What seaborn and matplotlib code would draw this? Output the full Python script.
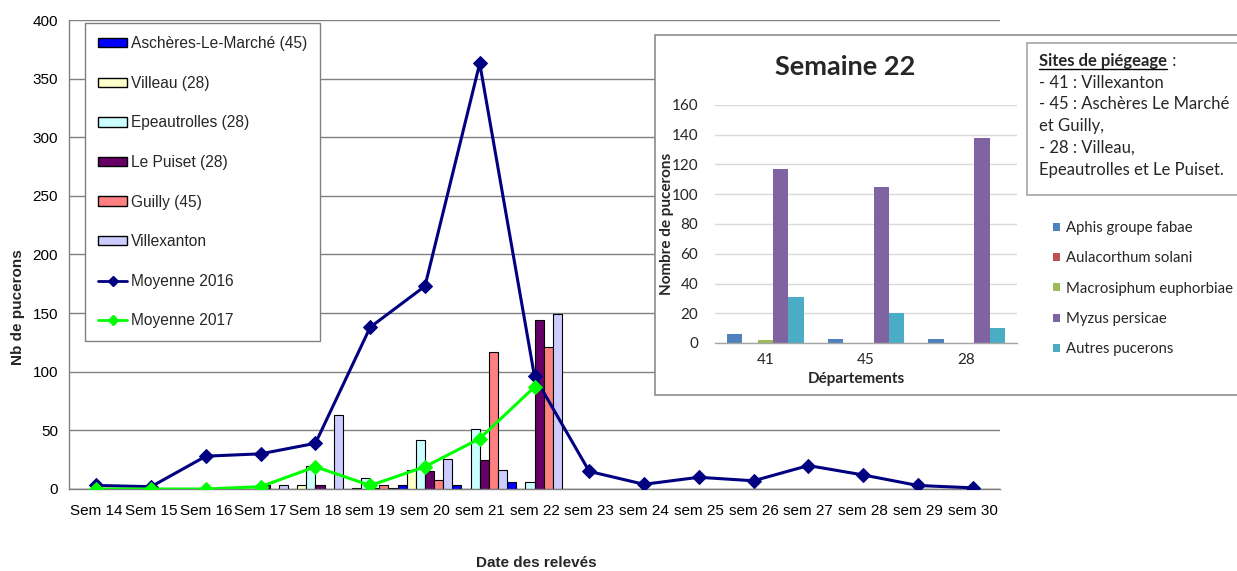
import numpy as np
import pandas as pd
import matplotlib
matplotlib.use("Agg")
import matplotlib.pyplot as plt
import seaborn as sns
from matplotlib.patches import Patch, Rectangle
from matplotlib.lines import Line2D

# ---------------- data ----------------
weeks = ["Sem 14", "Sem 15", "Sem 16", "Sem 17", "Sem 18", "sem 19", "sem 20", "sem 21",
         "sem 22", "sem 23", "sem 24", "sem 25", "sem 26", "sem 27", "sem 28", "sem 29", "sem 30"]
sites = ["Aschères-Le-Marché (45)", "Villeau (28)", "Epeautrolles (28)",
         "Le Puiset (28)", "Guilly (45)", "Villexanton"]
aschères = [0, 0, 0, 0, 0, 0, 3, 3, 6, 0, 0, 0, 0, 0, 0, 0, 0]
villeau = [0, 0, 0, 0, 3, 1, 16, 0, 0, 0, 0, 0, 0, 0, 0, 0, 0]
epeautrolles = [0, 0, 0, 0, 20, 9, 42, 51, 6, 0, 0, 0, 0, 0, 0, 0, 0]
le_puiset = [0, 0, 0, 3, 3, 1, 15, 25, 144, 0, 0, 0, 0, 0, 0, 0, 0]
guilly = [0, 0, 0, 0, 0, 3, 8, 117, 121, 0, 0, 0, 0, 0, 0, 0, 0]
villexanton = [0, 0, 0, 3, 63, 1, 26, 16, 149, 0, 0, 0, 0, 0, 0, 0, 0]
moyenne_2016 = [3, 2, 28, 30, 39, 138, 173, 363, 96, 15, 4, 10, 7, 20, 12, 3, 1]
moyenne_2017 = [0, 0, 0, 2, 19, 3, 19, 43, 87]

site_colors = ["#0000FF", "#FFFFCC", "#CCFFFF", "#660066", "#FF8080", "#CCCCFF"]

depts = ["41", "45", "28"]
species = ["Aphis groupe fabae", "Aulacorthum solani", "Macrosiphum euphorbiae",
           "Myzus persicae", "Autres pucerons"]
aphis = [6, 3, 3]
aulacorthum = [0, 0, 0]
macrosiphum = [2, 0, 0]
myzus = [117, 105, 138]
autres = [31, 20, 10]
species_colors = ["#4F81BD", "#C0504D", "#9BBB59", "#8064A2", "#4BACC6"]

sites_text = ["- 41 : Villexanton", "- 45 : Aschères Le Marché", "et Guilly,",
              "- 28 : Villeau,", "Epeautrolles et Le Puiset."]

# ---------------- setup ----------------
sns.set_theme(style="white")
plt.rcParams["font.family"] = ["Liberation Sans", "DejaVu Sans"]

W, H = 1237, 571
fig = plt.figure(figsize=(W / 100, H / 100), dpi=100)
fig.patch.set_facecolor("white")


def rect(l, t, r, b):
    return [l / W, 1 - b / H, (r - l) / W, (b - t) / H]


def fy(y):
    return 1 - y / H


# ---------------- main chart ----------------
ax = fig.add_axes(rect(69, 20, 1000, 489))
series = [aschères, villeau, epeautrolles, le_puiset, guilly, villexanton]
df = pd.DataFrame({
    "week": np.tile(weeks, len(sites)),
    "site": np.repeat(sites, len(weeks)),
    "value": np.concatenate(series),
})
sns.barplot(data=df, x="week", y="value", hue="site", order=weeks, hue_order=sites,
            palette=site_colors, width=1.0, saturation=1, edgecolor="black",
            linewidth=0.8, errorbar=None, legend=False, ax=ax)

sns.lineplot(x=np.arange(len(moyenne_2016)), y=moyenne_2016, color="#000080",
             linewidth=2.2, marker="D", markersize=7, markeredgecolor="#000080",
             ax=ax, zorder=5)
sns.lineplot(x=np.arange(len(moyenne_2017)), y=moyenne_2017, color="#00FF00",
             linewidth=2.2, marker="D", markersize=7, markeredgecolor="#00FF00",
             ax=ax, zorder=6)

ax.set_xlim(-0.5, len(weeks) - 0.5)
ax.set_ylim(0, 400)
ax.set_yticks(np.arange(0, 401, 50))
ax.set_xticks(np.arange(len(weeks)))
ax.set_xticklabels(weeks)
ax.set_xticks(np.arange(-0.5, len(weeks)), minor=True)
ax.tick_params(axis="x", which="major", length=0, labelsize=11, pad=11, colors="black")
ax.tick_params(axis="x", which="minor", length=5, width=1, color="#808080", direction="out")
ax.tick_params(axis="y", which="major", length=5, width=1, color="#808080",
               direction="out", labelsize=11, pad=3)
for lab in ax.get_yticklabels():
    lab.set_color("black")
ax.yaxis.grid(True, color="#808080", linewidth=1)
ax.set_axisbelow(True)
for s in ["top", "right"]:
    ax.spines[s].set_visible(False)
for s in ["left", "bottom"]:
    ax.spines[s].set_color("#808080")
    ax.spines[s].set_linewidth(1)
ax.set_xlabel("")
ax.set_ylabel("")
ax.set_facecolor("white")

handles = [Patch(facecolor=c, edgecolor="black", linewidth=1) for c in site_colors]
handles += [Line2D([], [], color="#000080", lw=2, marker="D", markersize=5),
            Line2D([], [], color="#00FF00", lw=2, marker="D", markersize=5)]
labels = sites + ["Moyenne 2016", "Moyenne 2017"]
leg = ax.legend(handles, labels, loc="upper left", bbox_to_anchor=(85 / W, fy(23)),
                bbox_transform=fig.transFigure, frameon=True, fancybox=False,
                edgecolor="#808080", fontsize=11.2, labelspacing=1.58, handlelength=1.85,
                handleheight=0.55, handletextpad=0.25, borderpad=0.85, borderaxespad=0)
leg.get_frame().set_linewidth(1)
leg.get_frame().set_facecolor("white")
leg.get_frame().set_alpha(1)

fig.text(18 / W, fy(307), "Nb de pucerons", rotation=90, fontsize=11,
         fontweight="bold", ha="center", va="center")
fig.text(536 / W, fy(563), "Date des relevés", fontsize=11, fontweight="bold",
         ha="center", va="center")

# ---------------- inset ----------------
fig.patches.append(Rectangle((655 / W, fy(395)), (1245 - 655) / W, 360 / H,
                             transform=fig.transFigure, facecolor="white",
                             edgecolor="#8c8c8c", linewidth=1.2, zorder=1))

calibri = ["Lato", "DejaVu Sans"]
ax2 = fig.add_axes(rect(715, 105, 1017, 343))
ax2.set_zorder(2)
sp_series = [aphis, aulacorthum, macrosiphum, myzus, autres]
df2 = pd.DataFrame({
    "dept": np.tile(depts, len(species)),
    "species": np.repeat(species, len(depts)),
    "value": np.concatenate(sp_series),
})
sns.barplot(data=df2, x="dept", y="value", hue="species", order=depts,
            hue_order=species, palette=species_colors, width=0.76, saturation=1,
            errorbar=None, legend=False, linewidth=0, ax=ax2)
ax2.set_ylim(0, 160)
ax2.set_yticks(np.arange(0, 161, 20))
ax2.yaxis.grid(True, color="#d9d9d9", linewidth=1)
ax2.set_axisbelow(True)
for s in ["top", "right", "left"]:
    ax2.spines[s].set_visible(False)
ax2.spines["bottom"].set_color("#a6a6a6")
ax2.spines["bottom"].set_linewidth(1)
ax2.tick_params(axis="both", length=0, labelsize=11, colors="#262626")
ax2.tick_params(axis="y", pad=12)
ax2.tick_params(axis="x", pad=7)
for lab in ax2.get_xticklabels() + ax2.get_yticklabels():
    lab.set_family(calibri)
ax2.set_xlabel("")
ax2.set_ylabel("")
ax2.set_facecolor("none")

fig.text(845 / W, fy(67), "Semaine 22", fontsize=19.5, fontweight="bold",
         family=calibri, ha="center", va="center", zorder=4)
fig.text(667 / W, fy(224), "Nombre de pucerons", rotation=90, fontsize=11,
         fontweight="bold", family=calibri, ha="center", va="center", zorder=4)
fig.text(856 / W, fy(379), "Départements", fontsize=11, fontweight="bold",
         family=calibri, ha="center", va="center", zorder=4)

# sites box
fig.patches.append(Rectangle((1027 / W, fy(195)), (1245 - 1027) / W, (195 - 43) / H,
                             transform=fig.transFigure, facecolor="white",
                             edgecolor="#a6a6a6", linewidth=1.2, zorder=3))
base0 = 66
step = 21.7
t0 = fig.text(1039 / W, fy(base0), "Sites de piégeage", fontsize=12,
              fontweight="bold", family=calibri, ha="left", va="baseline", zorder=4)
fig.canvas.draw()
r = fig.canvas.get_renderer()
bb = t0.get_window_extent(renderer=r)
x0, x1 = bb.x0 / W, bb.x1 / W
fig.lines.append(Line2D([x0, x1], [fy(base0 + 2.5), fy(base0 + 2.5)],
                        transform=fig.transFigure, color="black", linewidth=1, zorder=4))
fig.text(x1 + 1 / W, fy(base0), " :", fontsize=12, family=calibri, ha="left",
         va="baseline", zorder=4)
for i, line in enumerate(sites_text):
    fig.text(1039 / W, fy(base0 + step * (i + 1)), line, fontsize=12,
             family=calibri, ha="left", va="baseline", zorder=4)

# species legend
sp_handles = [Patch(facecolor=c, edgecolor="none") for c in species_colors]
leg2 = fig.legend(sp_handles, species, loc="upper left",
                  bbox_to_anchor=(1047 / W, fy(215)), frameon=False,
                  prop={"family": calibri, "size": 10.7}, labelspacing=1.1,
                  handlelength=0.48, handleheight=0.48, handletextpad=0.4,
                  borderaxespad=0)
leg2.set_zorder(5)

fig.savefig("out.png", dpi=100, facecolor="white")
